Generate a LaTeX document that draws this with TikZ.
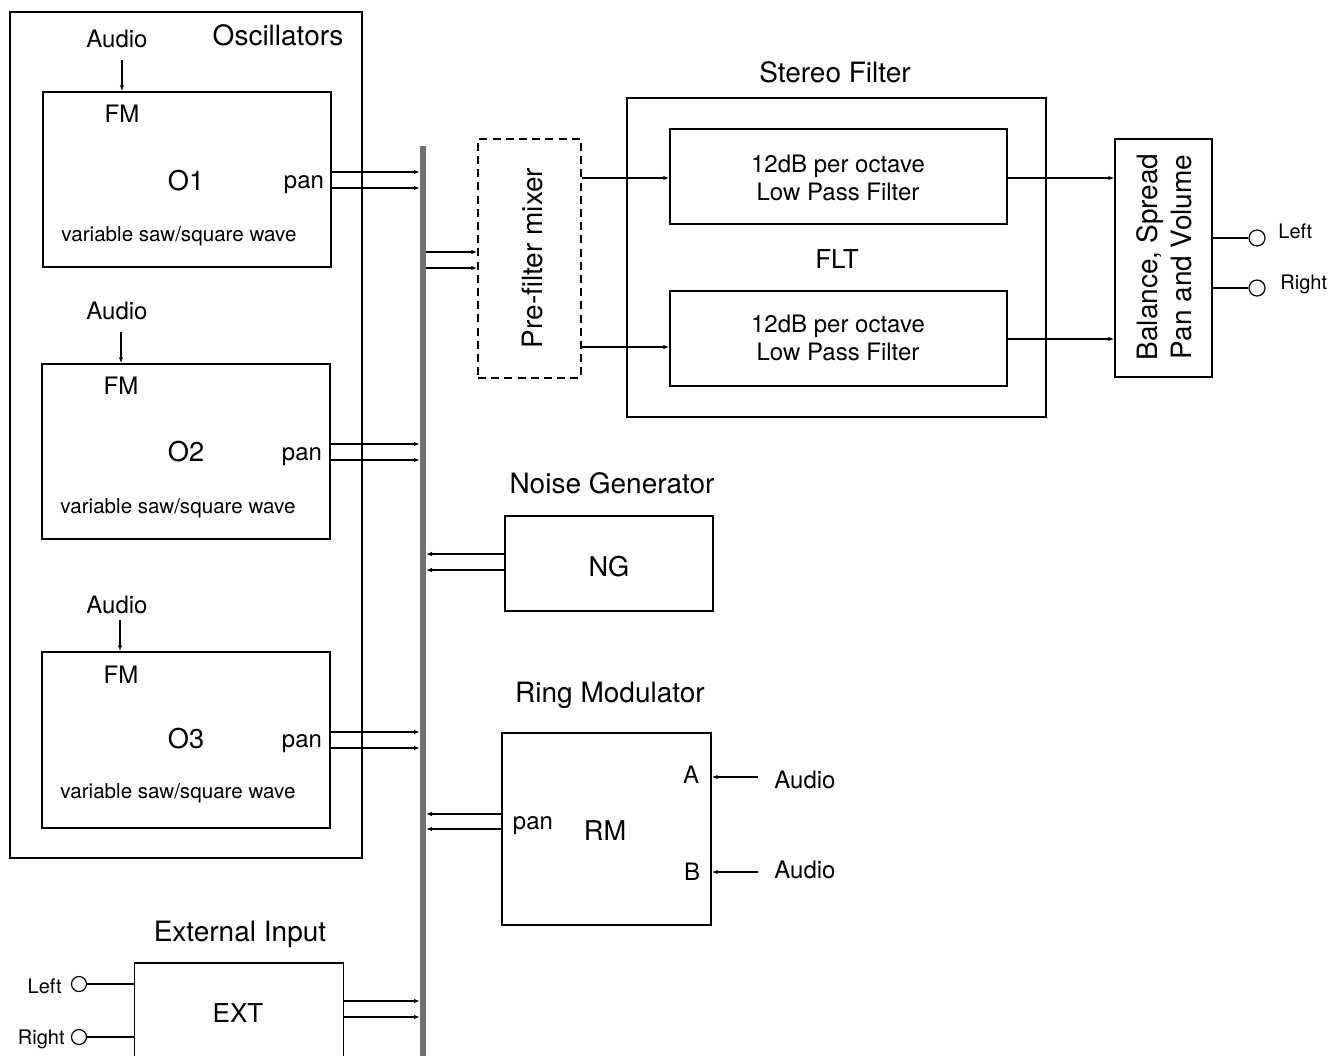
\documentclass[tikz,border=0pt]{standalone}
\usepackage{fontspec}
\setmainfont{TeX Gyre Heros}
\usetikzlibrary{arrows.meta}
\newcommand\fbig{\fontsize{14}{16.6}\selectfont}
\newcommand\flab{\fontsize{13.6}{16}\selectfont}
\newcommand\fmid{\fontsize{12}{14}\selectfont}
\newcommand\fvar{\fontsize{10.3}{12}\selectfont}
\newcommand\fsm{\fontsize{10}{12}\selectfont}
\tikzset{
  box/.style={draw, line width=0.65pt, inner sep=0pt, rectangle},
  dbox/.style={draw, line width=0.65pt, inner sep=0pt, rectangle, dash pattern=on 4pt off 2.6pt},
  txt/.style={inner sep=0pt, anchor=base},
  arr/.style={line width=0.65pt, -{Latex[length=3pt,width=2.2pt]}},
  ln/.style={line width=0.65pt},
  port/.style={draw, circle, line width=0.6pt, minimum size=8pt, inner sep=0pt},
  busline/.style={line width=3pt, draw={rgb,255:red,112;green,112;blue,112}}
}
\begin{document}
\begin{tikzpicture}[x=0.5pt,y=-0.5pt]
\useasboundingbox (0,0) rectangle (1331,1055);

% Oscillators group
\node[box, minimum width=176pt, minimum height=423pt] (osc) at (186,435) {};
\node[txt] (osct) at (278,45) {\fbig Oscillators};

% O1
\node[box, minimum width=144pt, minimum height=87.5pt] (o1) at (187,179.5) {};
\node[txt] (a1) at (117,47) {\fmid Audio};
\node[txt] (fm1) at (122,122) {\fmid FM};
\node[txt] (o1t) at (186,190) {\flab O1};
\node[txt] (p1) at (304,188) {\fmid pan};
\node[txt] (v1) at (179,241) {\fvar variable saw/square wave};
\coordinate (a1s) at (122,60);
\draw[arr] (a1s) -- (a1s |- o1.north);

% O2
\node[box, minimum width=144pt, minimum height=87.5pt] (o2) at (186,451.5) {};
\node[txt] (a2) at (117,319) {\fmid Audio};
\node[txt] (fm2) at (121,394) {\fmid FM};
\node[txt] (o2t) at (186,461) {\flab O2};
\node[txt] (p2) at (302,460) {\fmid pan};
\node[txt] (v2) at (178,513) {\fvar variable saw/square wave};
\coordinate (a2s) at (121,332);
\draw[arr] (a2s) -- (a2s |- o2.north);

% O3
\node[box, minimum width=144pt, minimum height=88pt] (o3) at (186,740) {};
\node[txt] (a3) at (117,613) {\fmid Audio};
\node[txt] (fm3) at (121,683) {\fmid FM};
\node[txt] (o3t) at (186,748) {\flab O3};
\node[txt] (p3) at (302,747) {\fmid pan};
\node[txt] (v3) at (178,798) {\fvar variable saw/square wave};
\coordinate (a3s) at (120,620);
\draw[arr] (a3s) -- (a3s |- o3.north);

% Bus
\coordinate (bustop) at (423,146);
\coordinate (busbot) at (423,1060);
\coordinate (busL) at (420,0);
\coordinate (busR) at (426,0);
\draw[busline] (bustop) -- (busbot);

% Oscillator outputs
\draw[arr] (o1.east |- 0,172) -- (busL |- 0,172);
\draw[arr] (o1.east |- 0,188) -- (busL |- 0,188);
\draw[arr] (o2.east |- 0,444) -- (busL |- 0,444);
\draw[arr] (o2.east |- 0,460) -- (busL |- 0,460);
\draw[arr] (o3.east |- 0,732) -- (busL |- 0,732);
\draw[arr] (o3.east |- 0,748) -- (busL |- 0,748);

% Pre-filter mixer
\node[dbox, minimum width=51.5pt, minimum height=119.5pt] (mix) at (529.5,258.5) {};
\node[inner sep=0pt, rotate=90] (mixt) at (532,258) {\fbig Pre-filter mixer};
\draw[arr] (busR |- 0,252) -- (mix.west |- 0,252);
\draw[arr] (busR |- 0,268) -- (mix.west |- 0,268);

% Stereo filter
\node[box, minimum width=209.5pt, minimum height=159.5pt] (sf) at (836.5,257.5) {};
\node[txt] (sft) at (835,82) {\fbig Stereo Filter};
\node[box, minimum width=168.5pt, minimum height=47.5pt] (f1) at (838.5,176.5) {};
\node[txt] (f1a) at (838,172) {\fmid 12dB per octave};
\node[txt] (f1b) at (838,200) {\fmid Low Pass Filter};
\node[box, minimum width=168.5pt, minimum height=47.5pt] (f2) at (838.5,338.5) {};
\node[txt] (f2a) at (838,332) {\fmid 12dB per octave};
\node[txt] (f2b) at (838,360) {\fmid Low Pass Filter};
\node[txt] (flt) at (837,268) {\fontsize{13}{15}\selectfont FLT};
\draw[arr] (mix.east |- 0,178) -- (f1.west |- 0,178);
\draw[arr] (mix.east |- 0,347) -- (f2.west |- 0,347);

% Balance
\node[box, minimum width=48.5pt, minimum height=119pt] (bal) at (1163.5,258) {};
\node[inner sep=0pt, rotate=90, align=center, font=\fbig] (balt) at (1164,257) {Balance, Spread\\[0.2pt]Pan and Volume};
\draw[arr] (f1.east |- 0,178) -- (bal.west |- 0,178);
\draw[arr] (f2.east |- 0,339) -- (bal.west |- 0,339);
\node[port] (outl) at (1257,238) {};
\node[port] (outr) at (1257,288) {};
\draw[ln] (bal.east |- outl) -- (outl.west);
\draw[ln] (bal.east |- outr) -- (outr.west);
\node[txt, anchor=base west] (outlt) at (1278,238) {\fsm Left};
\node[txt, anchor=base west] (outrt) at (1280,289) {\fsm Right};

% Noise generator
\node[box, minimum width=104pt, minimum height=47.5pt] (ng) at (609,563.5) {};
\node[txt] (ngt) at (612,493) {\fbig Noise Generator};
\node[txt] (ngl) at (609,576) {\flab NG};
\draw[arr] (ng.west |- 0,554) -- (busR |- 0,554);
\draw[arr] (ng.west |- 0,570) -- (busR |- 0,570);

% Ring modulator
\node[box, minimum width=104.5pt, minimum height=96pt] (rm) at (606.5,829) {};
\node[txt] (rmt) at (610,702) {\fbig Ring Modulator};
\node[txt] (rml) at (605,840) {\flab RM};
\node[txt] (rmp) at (533,829) {\fmid pan};
\node[txt] (rma) at (691,783) {\fmid A};
\node[txt] (rmb) at (692,880) {\fmid B};
\node[txt, anchor=base west] (aua) at (774,788) {\fmid Audio};
\node[txt, anchor=base west] (aub) at (774,878) {\fmid Audio};
\coordinate (aas) at (758,777);
\coordinate (abs) at (758,872);
\draw[arr] (aas) -- (rm.east |- aas);
\draw[arr] (abs) -- (rm.east |- abs);
\draw[arr] (rm.west |- 0,814) -- (busR |- 0,814);
\draw[arr] (rm.west |- 0,829) -- (busR |- 0,829);

% External input
\node[box, minimum width=104.5pt, minimum height=52pt] (ext) at (239,1015) {};
\node[txt] (extt) at (240,941) {\fbig External Input};
\node[txt] (extl) at (238,1022) {\fontsize{13}{15}\selectfont EXT};
\node[port, minimum size=7.5pt] (inl) at (79,984) {};
\node[port, minimum size=7.5pt] (inr) at (79,1037) {};
\draw[ln] (inl.east) -- (ext.west |- inl);
\draw[ln] (inr.east) -- (ext.west |- inr);
\node[txt, anchor=base east] (inlt) at (62,993) {\fsm Left};
\node[txt, anchor=base east] (inrt) at (65,1044) {\fsm Right};
\draw[arr] (ext.east |- 0,1001) -- (busL |- 0,1001);
\draw[arr] (ext.east |- 0,1017) -- (busL |- 0,1017);
\end{tikzpicture}
\end{document}
